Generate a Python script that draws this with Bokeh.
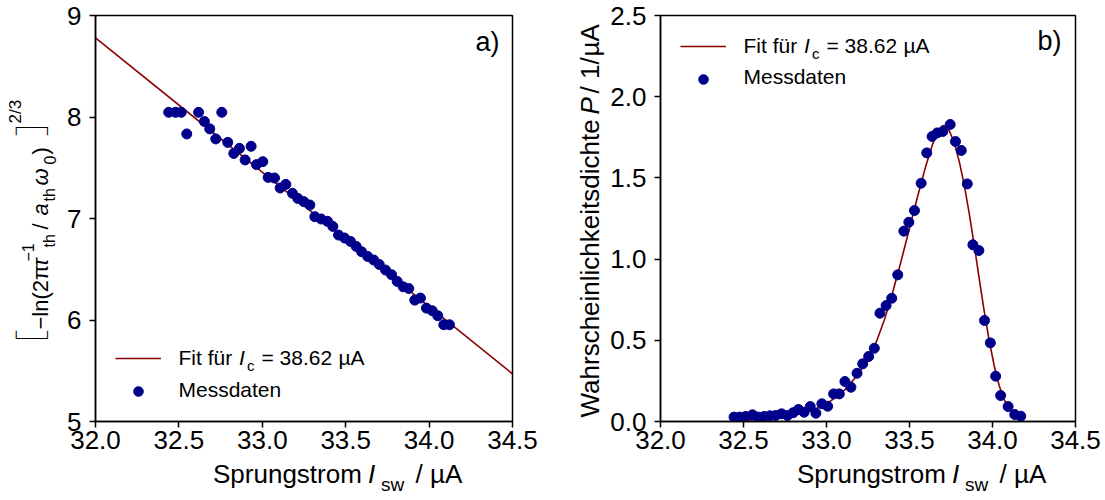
import math
from bokeh.plotting import figure
from bokeh.models import Range1d, FixedTicker, NumeralTickFormatter, Label, Legend, LegendItem
from bokeh.layouts import row, column
from bokeh.embed import file_html
from bokeh.resources import INLINE

FONT = "Liberation Sans"

# ---------------- data ----------------
x_ticks = [32.0, 32.5, 33.0, 33.5, 34.0, 34.5]
y_ticks_a = [5, 6, 7, 8, 9]
y_ticks_b = [0.0, 0.5, 1.0, 1.5, 2.0, 2.5]

a_x = [32.439, 32.480, 32.514, 32.547, 32.618, 32.653, 32.685, 32.721, 32.757, 32.793,
       32.829, 32.863, 32.897, 32.933, 32.965, 33.003, 33.035, 33.073, 33.107, 33.141,
       33.181, 33.213, 33.249, 33.285, 33.315, 33.353, 33.391, 33.423, 33.457, 33.493,
       33.529, 33.563, 33.595, 33.632, 33.668, 33.701, 33.739, 33.775, 33.809, 33.845,
       33.878, 33.914, 33.948, 33.984, 34.019, 34.052, 34.088, 34.122]
a_y = [8.046, 8.046, 8.046, 7.833, 8.046, 7.955, 7.883, 7.784, 8.046, 7.750,
       7.641, 7.691, 7.577, 7.711, 7.531, 7.560, 7.405, 7.399, 7.301, 7.336,
       7.248, 7.198, 7.166, 7.133, 7.018, 6.995, 6.972, 6.922, 6.837, 6.808,
       6.774, 6.725, 6.673, 6.626, 6.591, 6.547, 6.492, 6.446, 6.380, 6.327,
       6.311, 6.196, 6.216, 6.117, 6.091, 6.042, 5.953, 5.953]
a_fit_x = [32.0, 34.5]
a_fit_y = [8.78, 5.47]

b_x = [32.443, 32.477, 32.513, 32.554, 32.588, 32.624, 32.660, 32.694, 32.729, 32.765,
       32.799, 32.831, 32.865, 32.902, 32.936, 32.972, 33.007, 33.043, 33.077, 33.111,
       33.147, 33.184, 33.218, 33.254, 33.288, 33.322, 33.359, 33.393, 33.429, 33.466,
       33.496, 33.530, 33.570, 33.604, 33.636, 33.667, 33.701, 33.745, 33.777, 33.812,
       33.848, 33.882, 33.918, 33.952, 33.987, 34.019, 34.049, 34.094, 34.134, 34.170]
b_y = [0.027, 0.027, 0.031, 0.041, 0.027, 0.031, 0.035, 0.037, 0.047, 0.037,
       0.054, 0.074, 0.057, 0.092, 0.051, 0.109, 0.094, 0.170, 0.170, 0.246,
       0.211, 0.297, 0.355, 0.400, 0.451, 0.667, 0.714, 0.759, 0.903, 1.172,
       1.227, 1.299, 1.467, 1.654, 1.755, 1.777, 1.786, 1.829, 1.724, 1.669,
       1.463, 1.088, 1.053, 0.622, 0.484, 0.279, 0.160, 0.092, 0.043, 0.033]
b_fit_x = [32.44, 32.55, 32.65, 32.75, 32.85, 32.95, 33.03, 33.11, 33.19, 33.25,
           33.30, 33.35, 33.40, 33.45, 33.50, 33.55, 33.60, 33.64, 33.67, 33.70,
           33.72, 33.74, 33.77, 33.80, 33.83, 33.86, 33.89, 33.92, 33.95, 33.98,
           34.01, 34.04, 34.07, 34.10, 34.13, 34.175]
b_fit_y = [0.004, 0.010, 0.018, 0.032, 0.052, 0.085, 0.130, 0.195, 0.290, 0.385,
           0.490, 0.630, 0.800, 0.990, 1.190, 1.390, 1.580, 1.710, 1.785, 1.822,
           1.818, 1.790, 1.715, 1.600, 1.455, 1.280, 1.085, 0.880, 0.680, 0.500,
           0.345, 0.222, 0.135, 0.078, 0.042, 0.017]

DOT = "#00008B"
RED = "#8B0000"
K = 0.375          # baseline correction (fraction of font size)
R = math.pi / 2


def lab(fig, origin, X, Y, text, size, italic=False, rot=False):
    """Place text with its baseline start at page pixel (X, Y)."""
    ox, oy = origin
    x = X - ox
    y = oy - Y
    if rot:
        x -= K * size
    else:
        y += K * size
    fig.add_layout(Label(x=x, y=y, x_units="screen", y_units="screen", text=text,
                         text_font=FONT, text_font_size=f"{size}px",
                         text_font_style="italic" if italic else "normal",
                         text_color="black", angle=R if rot else 0.0,
                         text_align="left", text_baseline="alphabetic"))


def bracket(fig, origin, X, Y, text, size):
    """Thin bracket drawn with box-drawing characters; horizontal stroke at page Y."""
    ox, oy = origin
    fig.add_layout(Label(x=X - ox, y=oy - Y, x_units="screen", y_units="screen", text=text,
                         text_font="DejaVu Sans Mono", text_font_size=f"{size}px",
                         text_color="black", text_align="left", text_baseline="middle"))


def strip(width, height):
    s = figure(width=width, height=height, output_backend="svg", toolbar_location=None,
               x_axis_type=None, y_axis_type=None, x_range=Range1d(0, 1), y_range=Range1d(0, 1),
               min_border=0, min_border_left=0, min_border_right=0,
               min_border_top=0, min_border_bottom=0)
    s.outline_line_color = None
    s.xgrid.visible = False
    s.ygrid.visible = False
    return s


PH = 459   # plot figure height; text strip below fills the rest of 500


def make_fig(width, bl, br, yr, yticks, yfmt):
    p = figure(width=width, height=PH, output_backend="svg", toolbar_location=None,
               x_range=Range1d(32.0, 34.5), y_range=Range1d(*yr),
               min_border_left=bl, min_border_right=br, min_border_top=15,
               min_border_bottom=PH - 421)
    p.xgrid.visible = False
    p.ygrid.visible = False
    p.outline_line_color = "black"
    p.outline_line_width = 1.5
    p.outline_line_alpha = 1.0
    p.xaxis.ticker = FixedTicker(ticks=x_ticks)
    p.xaxis.formatter = NumeralTickFormatter(format="0.0")
    p.yaxis.ticker = FixedTicker(ticks=yticks)
    p.yaxis.formatter = NumeralTickFormatter(format=yfmt)
    for ax in (p.xaxis[0], p.yaxis[0]):
        ax.axis_line_color = "black"
        ax.axis_line_width = 1.5
        ax.major_tick_line_color = "black"
        ax.major_tick_line_width = 1.5
        ax.major_tick_in = 0
        ax.major_tick_out = 6
        ax.minor_tick_line_color = None
        ax.major_label_text_font = FONT
        ax.major_label_text_font_size = "26px"
        ax.major_label_text_color = "black"
    p.xaxis.major_label_standoff = 3
    p.yaxis.major_label_standoff = 8
    return p


def add_legend(p, origin, r_line, r_sc, vx, vy, dx, fitY, msY):
    lg = Legend(items=[LegendItem(label=" ", renderers=[r_line]),
                       LegendItem(label=" ", renderers=[r_sc])],
                location=(vx, vy), padding=0, margin=0, spacing=9,
                glyph_width=46, glyph_height=24, label_height=24, label_width=0,
                label_standoff=0, label_text_font_size="1px",
                background_fill_alpha=0, border_line_alpha=0)
    p.add_layout(lg)
    lab(p, origin, 178 + dx, fitY, "Fit für", 21)
    lab(p, origin, 238.5 + dx, fitY, "I", 21, italic=True)
    lab(p, origin, 246.5 + dx, fitY + 6, "c", 15)
    lab(p, origin, 261 + dx, fitY, "= 38.62", 21)
    lab(p, origin, 338 + dx, fitY, "µA", 21)
    lab(p, origin, 178 + dx, msY, "Messdaten", 21)


def add_xlabel(s, origin, dx):
    lab(s, origin, 177.5 + dx, 483, "Sprungstrom", 26)
    lab(s, origin, 332.5 + dx, 483, "I", 26, italic=True)
    lab(s, origin, 345.5 + dx, 491, "sw", 19)
    lab(s, origin, 380 + dx, 483, "/ µA", 26)


# ================= panel a =================
ya = strip(60, 500)                                   # page x 0..60
pa = make_fig(492, 35, 40, (5, 9), y_ticks_a, "0")    # page x 60..552, frame 95..512
xa = strip(492, 500 - PH)                             # page x 60..552, y PH..500
PA = (95, 421)
ra_line = pa.line(a_fit_x, a_fit_y, line_color=RED, line_width=1.6)
ra_sc = pa.scatter(a_x, a_y, size=10, fill_color=DOT, line_color=DOT)
add_legend(pa, PA, ra_line, ra_sc, 20, 18, 0, 365, 397)
lab(pa, PA, 475, 52, "a)", 27)
add_xlabel(xa, (60, 500), 0)

YA = (0, 500)
bracket(ya, YA, 12, 338, "\u2514\u2500\u2500\u2500\u2518", 13)
lab(ya, YA, 48, 329, "\u2212ln(2\u03c0", 22, rot=True)
lab(ya, YA, 48, 266, "\u03c4", 22, italic=True, rot=True)
lab(ya, YA, 33, 261, "\u22121", 16, rot=True)
lab(ya, YA, 55, 247, "th", 16, rot=True)
lab(ya, YA, 48, 229, "/", 22, rot=True)
lab(ya, YA, 48, 215, "a", 22, italic=True, rot=True)
lab(ya, YA, 55, 201, "th", 16, rot=True)
lab(ya, YA, 48, 185, "\u03c9", 22, italic=True, rot=True)
lab(ya, YA, 55, 164, "0", 16, rot=True)
lab(ya, YA, 48, 154, ")", 22, rot=True)
bracket(ya, YA, 12, 127, "\u250c\u2500\u2500\u2500\u2510", 13)
lab(ya, YA, 21, 123, "2/3", 17, rot=True)

# ================= panel b =================
yb = strip(54, 500)                                        # page x 552..606
pb = make_fig(499, 54, 30, (0, 2.5), y_ticks_b, "0.0")     # page x 606..1105, frame 660..1075
xb = strip(499, 500 - PH)                                  # page x 606..1105
PB = (660, 421)
rb_line = pb.line(b_fit_x, b_fit_y, line_color=RED, line_width=1.6)
rb_sc = pb.scatter(b_x, b_y, size=10, fill_color=DOT, line_color=DOT)
add_legend(pb, PB, rb_line, rb_sc, 20, 330, 565, 53, 84)
lab(pb, PB, 1037, 51, "b)", 27)
add_xlabel(xb, (606, 500), 565)

YB = (552, 500)
lab(yb, YB, 599, 417, "Wahrscheinlichkeitsdichte", 26, rot=True)
lab(yb, YB, 599, 114, "P", 26, italic=True, rot=True)
lab(yb, YB, 599, 93, "/ 1/", 26, rot=True)
lab(yb, YB, 599, 56, "µA", 26, rot=True)

layout = row(ya, column(pa, xa), yb, column(pb, xb))
open("out.html", "w").write(file_html(layout, INLINE))
